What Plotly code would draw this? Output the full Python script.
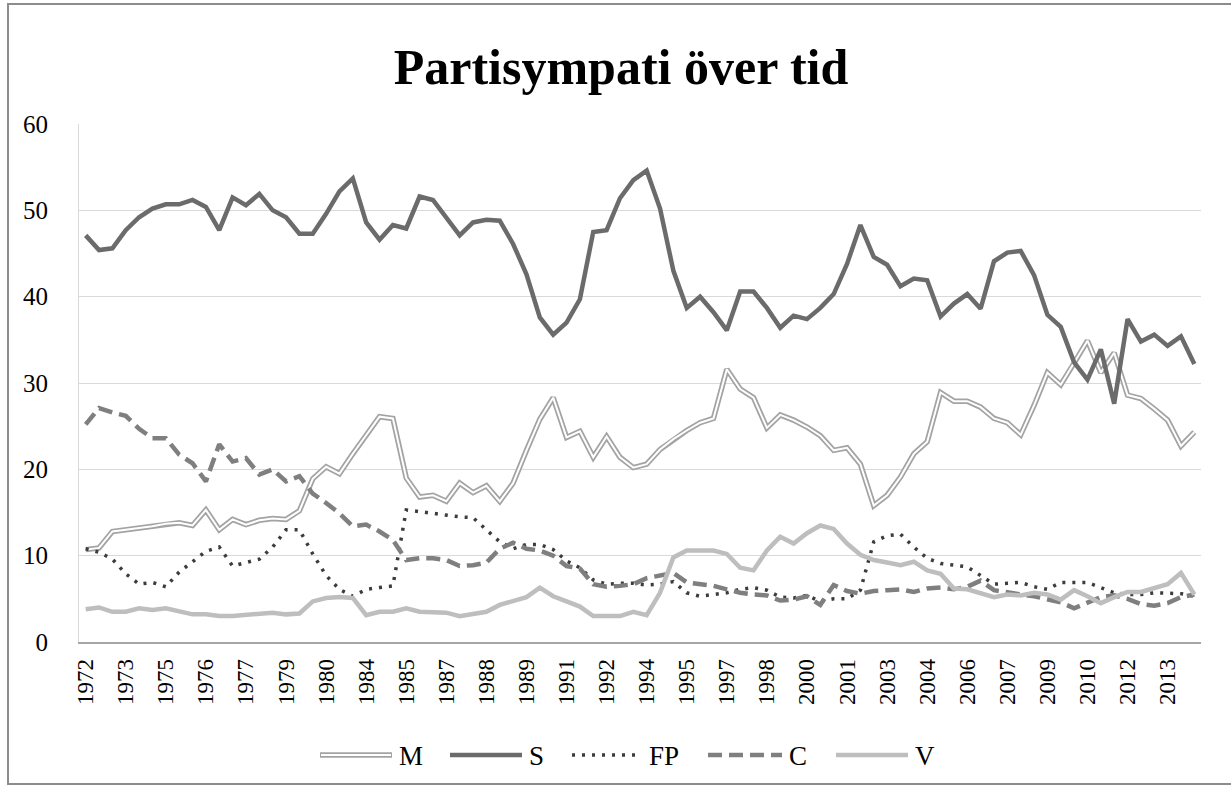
import plotly.graph_objects as go

# ---- data ----
labels = ["1972", "1973", "1975", "1976", "1977", "1979", "1980", "1984", "1985", "1987",
          "1988", "1989", "1991", "1992", "1994", "1995", "1997", "1998", "2000", "2001",
          "2003", "2004", "2006", "2007", "2009", "2010", "2012", "2013"]

M = [10.7, 10.9, 12.8, 13.0, 13.2, 13.4, 13.7, 13.8, 13.5, 15.3,
     13.0, 14.2, 13.6, 14.1, 14.3, 14.2, 15.2, 18.9, 20.3, 19.5,
     21.8, 24.0, 26.1, 25.9, 19.0, 16.8, 17.0, 16.3, 18.4, 17.3,
     18.1, 16.3, 18.4, 22.2, 25.8, 28.3, 23.7, 24.4, 21.4, 23.8,
     21.4, 20.2, 20.6, 22.3, 23.5, 24.5, 25.4, 25.9, 31.6, 29.3,
     28.3, 24.8, 26.3, 25.7, 24.9, 23.9, 22.2, 22.5, 20.6, 15.8,
     17.0, 19.1, 21.8, 23.2, 28.9, 27.9, 27.9, 27.2, 25.9, 25.4,
     24.0, 27.4, 31.2, 29.8, 32.3, 34.9, 31.2, 33.5, 28.6, 28.2,
     27.0, 25.7, 22.7, 24.3]

S = [47.1, 45.4, 45.6, 47.7, 49.2, 50.2, 50.7, 50.7, 51.2, 50.4,
     47.7, 51.5, 50.6, 51.9, 50.0, 49.2, 47.3, 47.3, 49.6, 52.2,
     53.7, 48.6, 46.6, 48.3, 47.9, 51.6, 51.2, 49.2, 47.1, 48.6,
     48.9, 48.8, 46.1, 42.6, 37.6, 35.6, 37.0, 39.7, 47.5, 47.7,
     51.4, 53.5, 54.6, 50.2, 43.0, 38.7, 40.0, 38.2, 36.1, 40.6,
     40.6, 38.7, 36.4, 37.8, 37.4, 38.7, 40.3, 43.8, 48.3, 44.6,
     43.7, 41.2, 42.1, 41.9, 37.7, 39.2, 40.3, 38.6, 44.1, 45.1,
     45.3, 42.5, 37.9, 36.5, 32.4, 30.4, 33.9, 27.6, 37.4, 34.8,
     35.6, 34.3, 35.4, 32.2]

FP = [10.8, 10.4, 9.6, 7.9, 6.7, 6.9, 6.4, 8.1, 9.3, 10.5,
      11.0, 8.8, 9.2, 9.6, 11.0, 13.0, 13.0, 10.2, 7.7, 6.1,
      5.3, 6.1, 6.3, 6.5, 15.3, 15.1, 14.9, 14.6, 14.5, 14.4,
      13.0, 11.6, 10.8, 11.3, 11.3, 10.7, 9.4, 8.6, 7.2, 6.7,
      6.8, 6.8, 6.6, 6.7, 7.0, 5.7, 5.3, 5.5, 5.7, 6.1,
      6.3, 6.0, 5.2, 5.1, 5.4, 4.7, 5.0, 5.0, 6.0, 11.6,
      12.3, 12.5, 11.0, 9.7, 9.1, 8.9, 8.7, 7.7, 6.7, 6.8,
      6.9, 6.4, 6.1, 6.9, 6.9, 6.9, 6.3, 5.7, 5.5, 5.5,
      5.7, 5.6, 5.6, 5.3]

C = [25.2, 27.1, 26.6, 26.2, 24.7, 23.6, 23.6, 21.7, 20.7, 18.6,
     22.9, 20.9, 21.3, 19.4, 20.0, 18.6, 19.2, 17.2, 16.1, 14.9,
     13.4, 13.6, 12.8, 11.8, 9.5, 9.7, 9.7, 9.5, 8.8, 8.9,
     9.2, 10.8, 11.5, 10.8, 10.6, 10.0, 8.8, 8.5, 6.7, 6.4,
     6.5, 6.7, 7.4, 7.7, 8.0, 6.9, 6.7, 6.5, 6.1, 5.7,
     5.5, 5.4, 4.8, 4.9, 5.3, 4.3, 6.6, 5.9, 5.6, 5.9,
     6.0, 6.1, 5.8, 6.2, 6.3, 6.1, 6.4, 7.1, 6.0, 5.7,
     5.5, 5.3, 5.0, 4.6, 3.9, 4.6, 5.2, 5.4, 5.0, 4.4,
     4.2, 4.5, 5.2, 5.5]

V = [3.8, 4.0, 3.5, 3.5, 3.9, 3.7, 3.9, 3.5, 3.2, 3.2,
     3.0, 3.0, 3.1, 3.3, 3.4, 3.2, 3.3, 4.7, 5.1, 5.2,
     5.1, 3.1, 3.5, 3.5, 3.9, 3.5, 3.5, 3.4, 3.0, 3.3,
     3.5, 4.3, 4.8, 5.2, 6.3, 5.3, 4.7, 4.1, 3.0, 3.0,
     3.0, 3.5, 3.1, 5.7, 9.8, 10.6, 10.6, 10.6, 10.2, 8.6,
     8.3, 10.6, 12.2, 11.4, 12.6, 13.5, 13.1, 11.4, 10.1, 9.5,
     9.2, 8.9, 9.3, 8.3, 7.9, 6.2, 6.1, 5.7, 5.2, 5.5,
     5.4, 5.7, 5.5, 4.9, 6.0, 5.3, 4.5, 5.2, 5.8, 5.8,
     6.3, 6.7, 8.0, 5.5]

series_names = ["M", "S", "FP", "C", "V"]

n = len(S)
x = list(range(n))
tickvals = list(range(0, n, 3))[:len(labels)]

# ---- geometry (pixels) ----
W, H = 1231, 787
PL, PR, PT, PB = 79, 1201, 124, 642
pw, ph = PR - PL, PB - PT


def px(v):
    return (v - PL) / pw


def py(v):
    return (PB - v) / ph


FONT = "Times New Roman, Liberation Serif, serif"

styles = {
    "M": dict(color="#a3a3a3", width=5.5),
    "S": dict(color="#6b6b6b", width=4.5),
    "FP": dict(color="#3c3c3c", width=3.5, dash="3px,7px"),
    "C": dict(color="#7f7f7f", width=4.5, dash="14px,7px"),
    "V": dict(color="#bebebe", width=4.5),
}
inner_M = dict(color="#ffffff", width=2)
values = {"M": M, "S": S, "FP": FP, "C": C, "V": V}

fig = go.Figure()
for name in series_names:
    fig.add_trace(go.Scatter(x=x, y=values[name], mode="lines", name=name,
                             showlegend=False, line=styles[name]))
    if name == "M":
        fig.add_trace(go.Scatter(x=x, y=M, mode="lines", name="M", showlegend=False,
                                 hoverinfo="skip", line=inner_M))

# ---- legend drawn below the plot (sample line + label) ----
leg_y = 755
leg_items = [("M", 320, 392), ("S", 450, 522), ("FP", 572, 642), ("C", 708, 782), ("V", 836, 908)]
shapes = [dict(type="rect", xref="paper", yref="paper",
               x0=px(8), x1=px(1240), y0=py(784), y1=py(4),
               line=dict(color="#8c8c8c", width=2), fillcolor="rgba(0,0,0,0)", layer="below")]
annotations = []
for name, a, b in leg_items:
    shapes.append(dict(type="line", xref="paper", yref="paper", x0=px(a), x1=px(b),
                       y0=py(leg_y), y1=py(leg_y), line=styles[name]))
    if name == "M":
        shapes.append(dict(type="line", xref="paper", yref="paper", x0=px(a + 1), x1=px(b - 1),
                           y0=py(leg_y), y1=py(leg_y), line=inner_M))
    annotations.append(dict(text=name, xref="paper", yref="paper", x=px(b + 5), y=py(leg_y + 1),
                            xanchor="left", yanchor="middle", showarrow=False,
                            font=dict(family=FONT, size=27, color="#000000")))

fig.update_layout(
    width=W, height=H,
    margin=dict(l=PL, r=W - PR, t=PT, b=H - PB, pad=0),
    paper_bgcolor="white", plot_bgcolor="white",
    font=dict(family=FONT, color="#000000", size=24),
    title=dict(text="<b>Partisympati över tid</b>", font=dict(family=FONT, size=50, color="#000000"),
               x=621 / W, xanchor="center", xref="container",
               y=1 - 66 / H, yanchor="middle", yref="container"),
    showlegend=False,
    xaxis=dict(range=[-0.5, n - 0.5], tickmode="array", tickvals=tickvals, ticktext=labels,
               tickangle=-90, showgrid=False, zeroline=False, showline=True,
               linecolor="#a6a6a6", linewidth=1.5, ticks="", ticklabelstandoff=6,
               tickfont=dict(family=FONT, size=23, color="#000000"), fixedrange=True),
    yaxis=dict(range=[0, 60], dtick=10, tick0=0, showgrid=True, gridcolor="#d9d9d9", gridwidth=1,
               zeroline=False, showline=True, linecolor="#d9d9d9", linewidth=1, ticks="",
               ticklabelstandoff=25, tickfont=dict(family=FONT, size=25, color="#000000"),
               fixedrange=True),
    shapes=shapes,
    annotations=annotations,
)

fig.write_html("out.html", post_script="document.body.style.margin='0';",
               config={"displayModeBar": False})
